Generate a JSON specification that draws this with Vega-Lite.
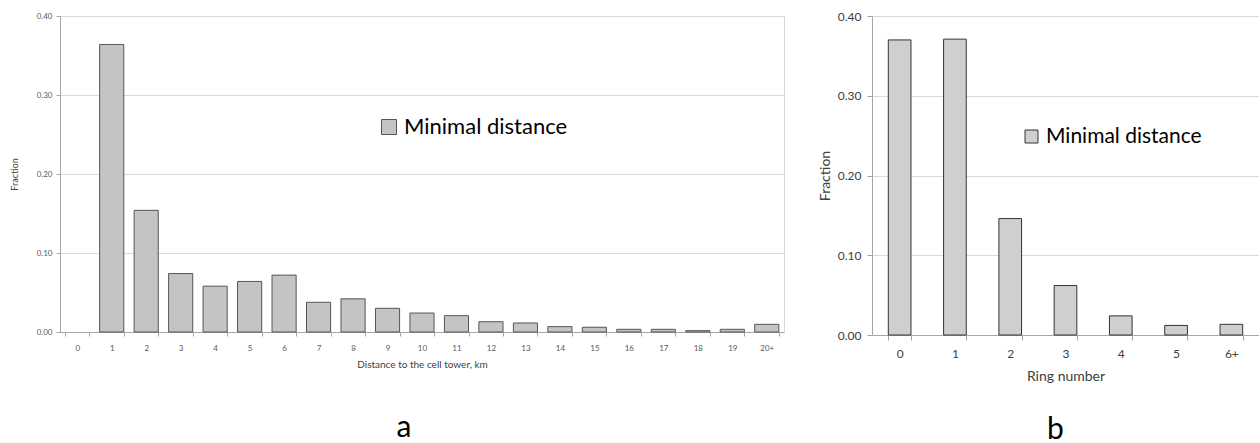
{
  "$schema": "https://vega.github.io/schema/vega-lite/v6.json",
  "padding": {"left": 9, "top": 10, "right": 0, "bottom": 0},
  "bounds": "flush",
  "spacing": 88,
  "config": {
    "font": "Lato",
    "view": {"stroke": null},
    "axis": {"domainColor": "#a6a6a6", "tickColor": "#a6a6a6", "gridColor": "#d9d9d9", "labelColor": "#595959", "titleColor": "#404040", "titleFontWeight": "normal", "labelFont": "Lato", "titleFont": "Lato"},
    "title": {"font": "Lato", "fontWeight": "normal", "color": "#000000"}
  },
  "datasets": {
    "dist": [
      {"km": "0", "fraction": 0.0},
      {"km": "1", "fraction": 0.364},
      {"km": "2", "fraction": 0.154},
      {"km": "3", "fraction": 0.074},
      {"km": "4", "fraction": 0.058},
      {"km": "5", "fraction": 0.064},
      {"km": "6", "fraction": 0.072},
      {"km": "7", "fraction": 0.0376},
      {"km": "8", "fraction": 0.042},
      {"km": "9", "fraction": 0.030},
      {"km": "10", "fraction": 0.024},
      {"km": "11", "fraction": 0.0207},
      {"km": "12", "fraction": 0.013},
      {"km": "13", "fraction": 0.0114},
      {"km": "14", "fraction": 0.0068},
      {"km": "15", "fraction": 0.006},
      {"km": "16", "fraction": 0.0034},
      {"km": "17", "fraction": 0.0034},
      {"km": "18", "fraction": 0.0017},
      {"km": "19", "fraction": 0.0034},
      {"km": "20+", "fraction": 0.0097}
    ],
    "ring": [
      {"ring": "0", "fraction": 0.370},
      {"ring": "1", "fraction": 0.371},
      {"ring": "2", "fraction": 0.146},
      {"ring": "3", "fraction": 0.062},
      {"ring": "4", "fraction": 0.024},
      {"ring": "5", "fraction": 0.012},
      {"ring": "6+", "fraction": 0.0134}
    ]
  },
  "hconcat": [
    {
      "width": 724,
      "height": 316,
      "view": {"stroke": "#d9d9d9"},
      "title": {"text": "a", "orient": "bottom", "fontSize": 30, "offset": 44, "dx": -18},
      "data": {"name": "dist"},
      "mark": {"type": "bar", "stroke": "#555555", "strokeWidth": 1},
      "encoding": {
        "x": {"field": "km", "type": "nominal", "sort": null,
          "scale": {"paddingInner": 0.3, "paddingOuter": 0.15},
          "axis": {"title": "Distance to the cell tower, km", "labelAngle": 0, "tickBand": "extent", "labelFontSize": 8, "titleFontSize": 10, "tickSize": 4, "labelPadding": 8, "titlePadding": 7}},
        "y": {"field": "fraction", "type": "quantitative",
          "scale": {"domain": [0, 0.4], "nice": false},
          "axis": {"title": "Fraction", "values": [0, 0.1, 0.2, 0.3, 0.4], "format": ".2f", "labelFontSize": 8, "titleFontSize": 9, "tickSize": 4, "labelPadding": 4, "titlePadding": 17}},
        "strokeOpacity": {"condition": {"test": "datum.fraction > 0", "value": 1}, "value": 0},
        "color": {"datum": "Minimal distance", "type": "nominal",
          "scale": {"range": ["#c4c4c4"]},
          "legend": {"title": null, "orient": "none", "legendX": 318, "legendY": 100, "symbolType": "square", "symbolSize": 225, "symbolStrokeColor": "#555555", "symbolStrokeWidth": 1, "labelFontSize": 22, "labelLimit": 0, "labelColor": "#000000", "labelFont": "Lato"}}
      }
    },
    {
      "width": 387,
      "height": 319,
      "title": {"text": "b", "orient": "bottom", "fontSize": 30, "offset": 32, "dx": -10},
      "data": {"name": "ring"},
      "mark": {"type": "bar", "stroke": "#333333", "strokeWidth": 1},
      "encoding": {
        "x": {"field": "ring", "type": "nominal", "sort": null,
          "scale": {"paddingInner": 0.59, "paddingOuter": 0.295},
          "axis": {"title": "Ring number", "labelAngle": 0, "tickBand": "extent", "labelFontSize": 12, "labelColor": "#404040", "titleFontSize": 14, "tickSize": 5, "labelPadding": 8, "titlePadding": 10}},
        "y": {"field": "fraction", "type": "quantitative",
          "scale": {"domain": [0, 0.4], "nice": false},
          "axis": {"title": "Fraction", "values": [0, 0.1, 0.2, 0.3, 0.4], "format": ".2f", "labelFontSize": 12, "labelColor": "#404040", "titleFontSize": 14, "tickSize": 5, "labelPadding": 6, "titlePadding": 5}},
        "color": {"datum": "Minimal distance", "type": "nominal",
          "scale": {"range": ["#cfcfcf"]},
          "legend": {"title": null, "orient": "none", "legendX": 149, "legendY": 110, "symbolType": "square", "symbolSize": 169, "symbolStrokeColor": "#333333", "symbolStrokeWidth": 1, "labelFontSize": 21, "labelLimit": 0, "labelColor": "#000000", "labelFont": "Lato"}}
      }
    }
  ],
  "resolve": {"scale": {"color": "independent"}, "legend": {"color": "independent"}}
}
